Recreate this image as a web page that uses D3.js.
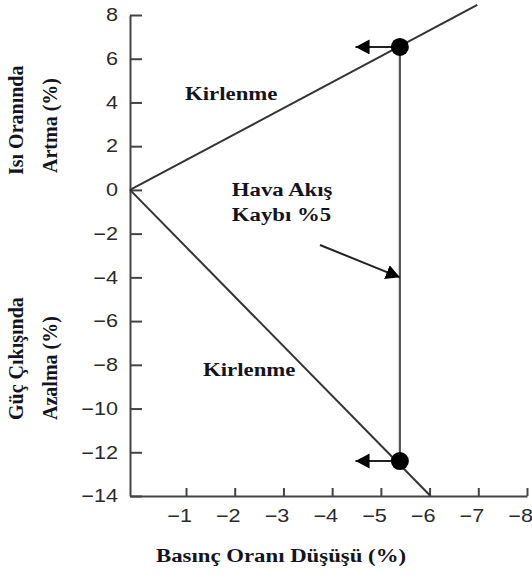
<!DOCTYPE html>
<html>
<head>
<meta charset="utf-8">
<script src="https://cdn.jsdelivr.net/npm/d3@7"></script>
<style>
  body { margin: 0; background: #fff; }
  .axis path, .axis line { stroke: #444; stroke-width: 2px; }
  .axis text { font-family: "Liberation Sans", Arial, sans-serif; font-size: 18px; fill: #2a2a2a; }
  .lbl { font-family: "Liberation Serif", "Times New Roman", serif; font-weight: bold; font-size: 19px; fill: #14141e; }
</style>
</head>
<body>
<script>
    // values (x = pressure ratio drop %, y = change %)
    var xTicks = [-1, -2, -3, -4, -5, -6, -7, -8];
    var yTicks = [-14, -12, -10, -8, -6, -4, -2, 0, 2, 4, 6, 8];
    var heatRateLine = [[0.15, 0], [-6.98, 8.46]];     // Isı Oranında Artma
    var powerLine = [[0.15, 0], [-6.02, -14]];          // Güç Çıkışında Azalma
    var airflowLoss = [[-5.39, 6.54], [-5.39, -12.4]];  // Hava Akış Kaybı %5
    var points = [[-5.39, 6.54], [-5.39, -12.4]];
    var leftArrows = [
      [[-5.39, 6.54], [-4.48, 6.54]],
      [[-5.39, -12.4], [-4.48, -12.4]]
    ];
    var noteArrow = [[-3.75, -2.52], [-5.39, -4]];
    var notes = [
      {x: -0.98, y: 4.11, lines: ["Kirlenme"]},
      {x: -1.94, y: -0.28, lines: ["Hava Akış", "Kaybı %5"]},
      {x: -1.35, y: -8.51, lines: ["Kirlenme"]}
    ];

    var margin = {top: 15, right: 5, bottom: 81, left: 130},
    width = 532 - margin.left - margin.right,
    height = 577 - margin.top - margin.bottom;

    var x = d3.scaleLinear().domain([0.15, -8]).range([0, width]);
    var y = d3.scaleLinear().domain([-14, 8]).range([height, 0]);
    var sx = 1.2; // picture text is stretched sideways

    var svg = d3.select("body").append("svg")
      .attr("width", width + margin.left + margin.right)
      .attr("height", height + margin.top + margin.bottom);

    var defs = svg.append("defs");
    defs.append("marker")
      .attr("id", "head")
      .attr("markerUnits", "userSpaceOnUse")
      .attr("markerWidth", 16).attr("markerHeight", 16)
      .attr("refX", 14).attr("refY", 7.5)
      .attr("orient", "auto")
    .append("path")
      .attr("d", "M0,0L14,7.5L0,15Z")
      .attr("fill", "#000");

    var g = svg.append("g")
      .attr("transform", "translate(" + margin.left + "," + margin.top + ")");

    var line = d3.line()
      .x(function(d) { return x(d[0]); })
      .y(function(d) { return y(d[1]); });

    //axes
    var yAxis = g.append("g")
      .attr("class", "axis")
      .call(d3.axisLeft(y).tickValues(yTicks).tickSize(-12).tickSizeOuter(0).tickPadding(12));
    yAxis.selectAll("text")
      .attr("transform", "translate(-12,0) scale(" + sx + ",1) translate(12,0)");

    var xAxis = g.append("g")
      .attr("class", "axis")
      .attr("transform", "translate(0," + height + ")")
      .call(d3.axisBottom(x).tickValues(xTicks).tickSize(-8).tickSizeOuter(0).tickPadding(13));
    // digit sits under the tick, the minus hangs to the left
    xAxis.selectAll("text")
      .attr("text-anchor", "end")
      .attr("x", 4.5)
      .attr("transform", "scale(" + sx + ",1)");

    //the two fouling lines
    [heatRateLine, powerLine].forEach(function(d) {
      g.append("path")
        .datum(d)
        .attr("d", line)
        .attr("fill", "none")
        .attr("stroke", "#333")
        .attr("stroke-width", 2);
    });

    g.append("path")
      .datum(airflowLoss)
      .attr("d", line)
      .attr("fill", "none")
      .attr("stroke", "#555")
      .attr("stroke-width", 2.2);

    //arrows
    leftArrows.concat([noteArrow]).forEach(function(d) {
      g.append("path")
        .datum(d)
        .attr("d", line)
        .attr("fill", "none")
        .attr("stroke", "#222")
        .attr("stroke-width", 2)
        .attr("marker-end", "url(#head)");
    });

    g.selectAll(".pt")
      .data(points)
      .enter().append("circle")
      .attr("class", "pt")
      .attr("cx", function(d) { return x(d[0]); })
      .attr("cy", function(d) { return y(d[1]); })
      .attr("r", 9)
      .attr("fill", "#000");

    //notes
    notes.forEach(function(n) {
      n.lines.forEach(function(t, i) {
        g.append("text")
          .attr("class", "lbl")
          .attr("transform", "translate(" + x(n.x) + "," + (y(n.y) + i * 25) + ") scale(" + sx + ",1)")
          .text(t);
      });
    });

    //axis titles
    function vTitle(tx, ty, t) {
      svg.append("text")
        .attr("class", "lbl")
        .style("font-size", "20px")
        .attr("transform", "translate(" + tx + "," + ty + ") rotate(-90)")
        .text(t);
    }
    vTitle(23, 175, "Isı Oranında");
    vTitle(57, 173, "Artma (%)");
    vTitle(23, 420, "Güç Çıkışında");
    vTitle(57, 420, "Azalma (%)");

    svg.append("text")
      .attr("class", "lbl")
      .attr("transform", "translate(" + (margin.left + x(-2.95)) + ",562) scale(" + sx + ",1)")
      .attr("text-anchor", "middle")
      .text("Basınç Oranı Düşüşü (%)");
</script>
</body>
</html>
